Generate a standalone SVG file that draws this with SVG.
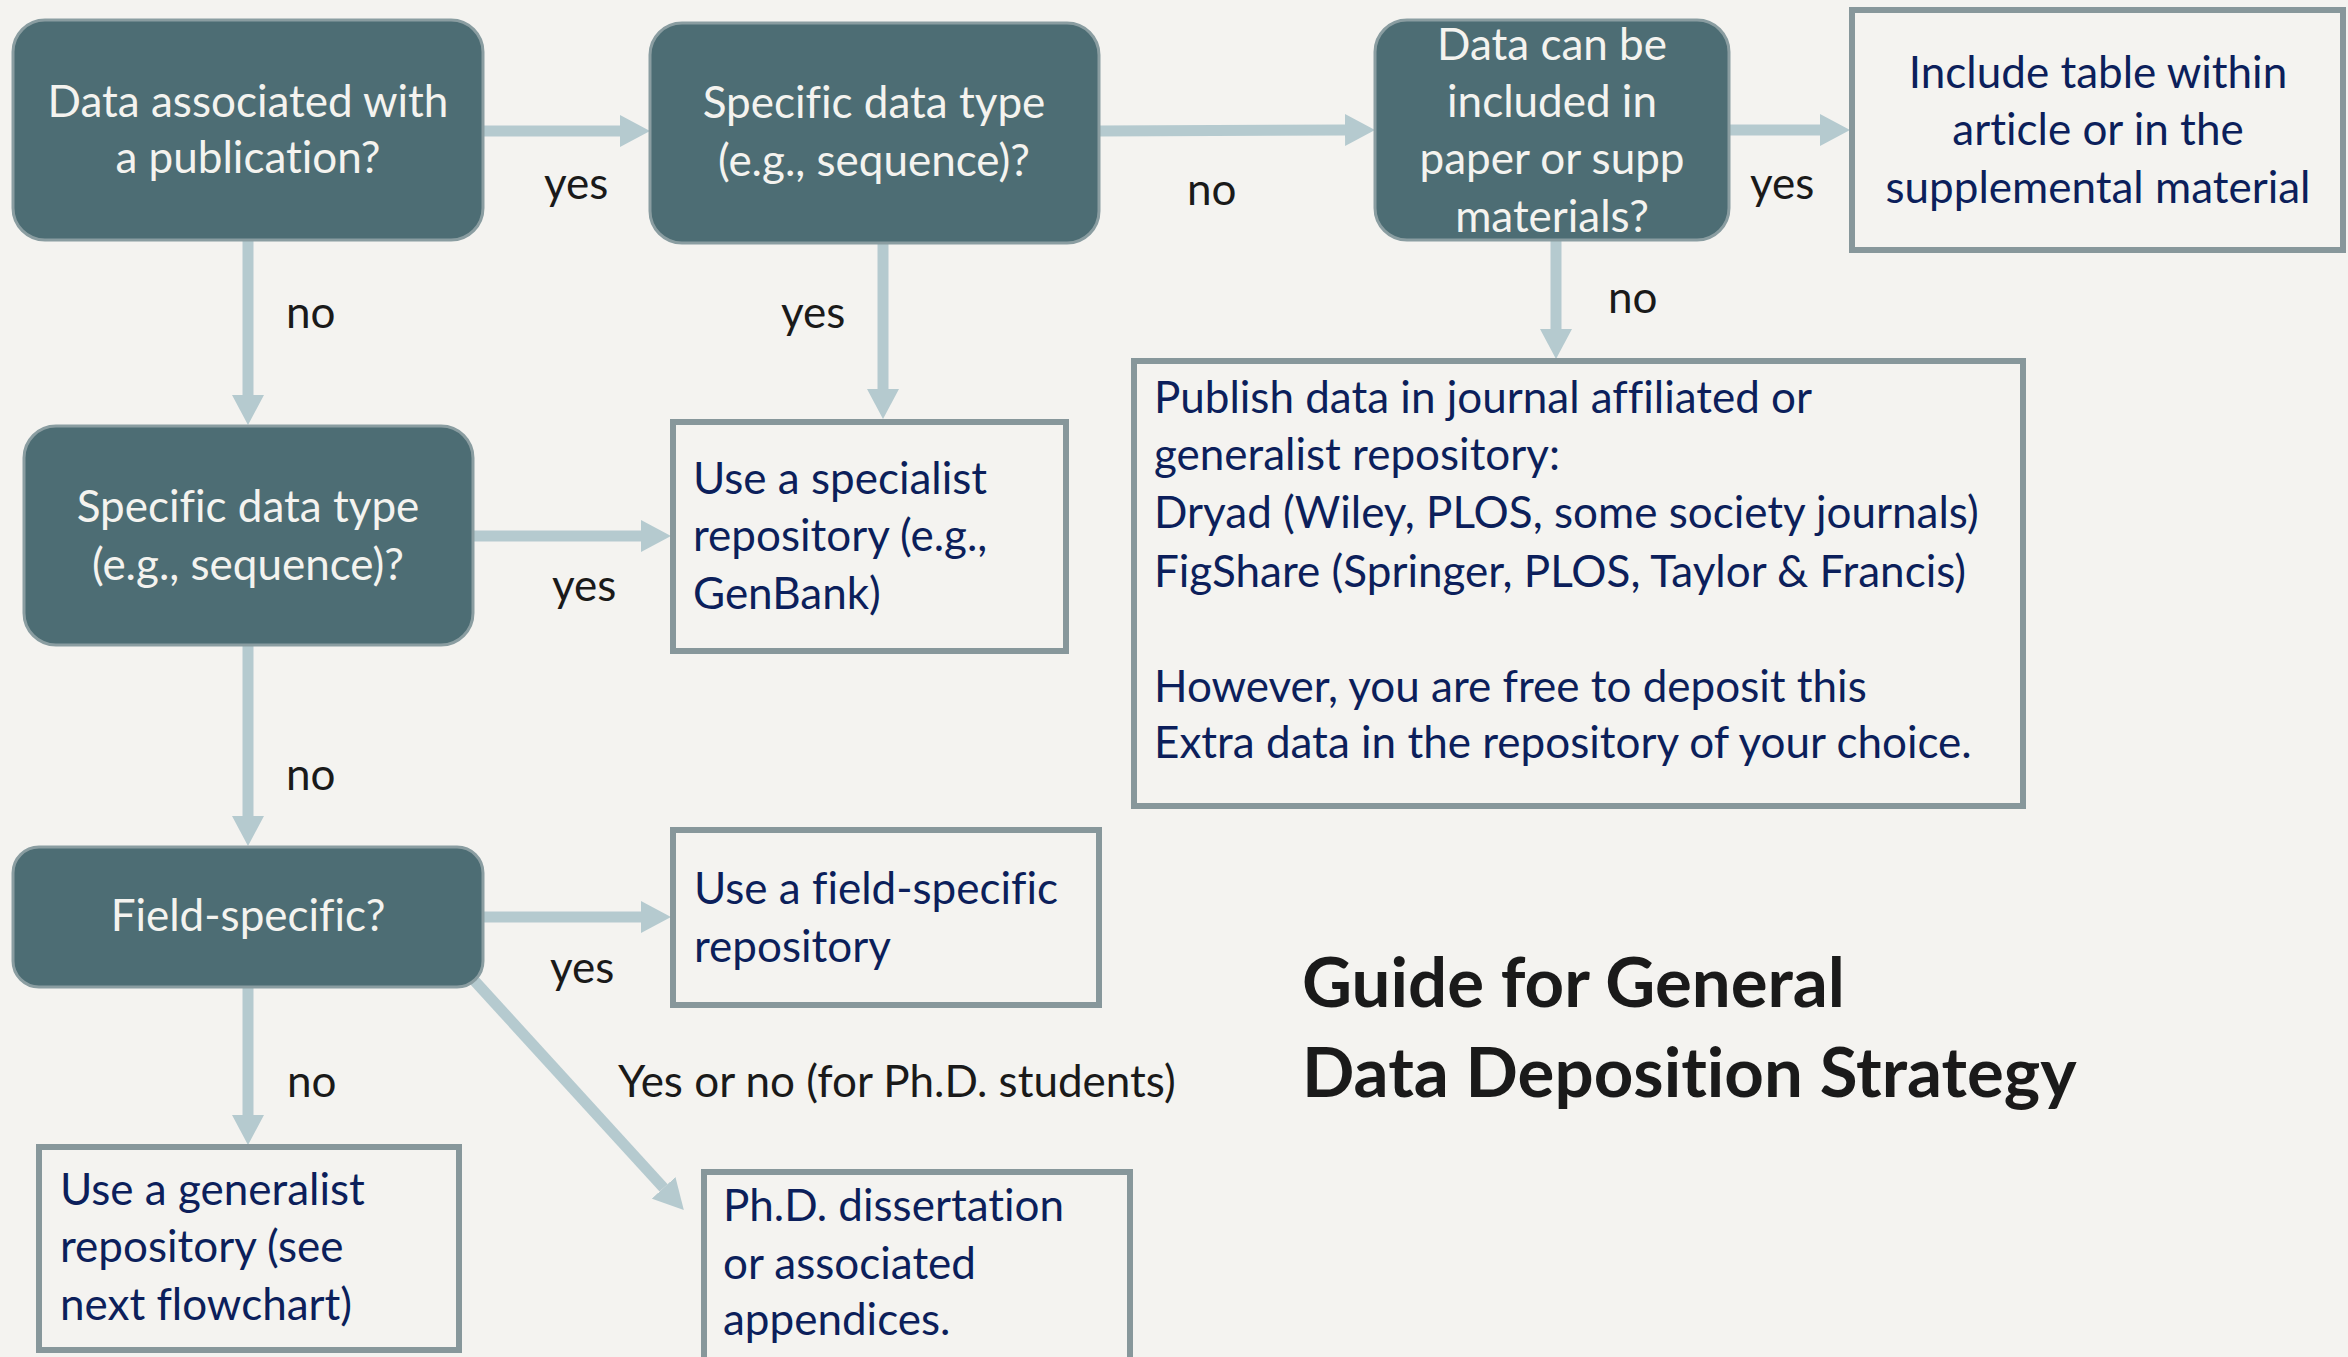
<svg xmlns="http://www.w3.org/2000/svg" width="2348" height="1357" viewBox="0 0 2348 1357">
<defs>
<style>
text{font-variant-ligatures:none}
.dec rect{fill:#4D6D74;stroke:#8A9DA1;stroke-width:3}
.dec text{fill:#F4F3EF;font-family:Lato,"Liberation Sans",sans-serif;font-size:44px;text-anchor:middle}
.box rect{fill:none;stroke:#87979B;stroke-width:6}
.box text{fill:#0C1F5B;font-family:Lato,"Liberation Sans",sans-serif;font-size:44px}
.lbl{fill:#1A1A1A;font-family:Lato,"Liberation Sans",sans-serif;font-size:44px}
.title{fill:#1A1A1A;font-family:Lato,"Liberation Sans",sans-serif;font-size:69px;font-weight:bold}
#connectors line{stroke:#B5CACF;stroke-width:11;marker-end:url(#ah)}
</style>
<marker id="ah" markerUnits="userSpaceOnUse" markerWidth="30" markerHeight="32" refX="0" refY="16" orient="auto" viewBox="0 0 30 32">
<path d="M0,0 L30,16 L0,32 z" fill="#B5CACF"/>
</marker>
</defs>
<rect x="0" y="0" width="2348" height="1357" fill="#F4F3F0"/>

<g id="connectors">
<line x1="484" y1="131" x2="620" y2="131"/>
<line x1="1099" y1="131" x2="1345" y2="130"/>
<line x1="1730" y1="130" x2="1820" y2="130"/>
<line x1="1556" y1="240" x2="1556" y2="329"/>
<line x1="883" y1="243" x2="883" y2="389"/>
<line x1="248" y1="240" x2="248" y2="395"/>
<line x1="473" y1="536" x2="641" y2="536"/>
<line x1="248" y1="645" x2="248" y2="816"/>
<line x1="483" y1="917" x2="641" y2="917"/>
<line x1="248" y1="987" x2="248" y2="1115"/>
<line x1="461" y1="966" x2="663.6" y2="1187.9"/>
</g>

<g id="labels">
<text class="lbl" x="544" y="199">yes</text>
<text class="lbl" x="1187" y="205">no</text>
<text class="lbl" x="1750" y="199">yes</text>
<text class="lbl" x="1608" y="313">no</text>
<text class="lbl" x="781" y="328">yes</text>
<text class="lbl" x="286" y="328">no</text>
<text class="lbl" x="552" y="601">yes</text>
<text class="lbl" x="286" y="790">no</text>
<text class="lbl" x="550" y="983">yes</text>
<text class="lbl" x="287" y="1097">no</text>
<text class="lbl" x="618" y="1097">Yes or no (for Ph.D. students)</text>
</g>

<g id="n1" class="dec">
<rect x="13" y="20" width="470" height="220" rx="32"/>
<text x="248" y="117">Data associated with</text>
<text x="248" y="173">a publication?</text>
</g>
<g id="n2" class="dec">
<rect x="650" y="23" width="449" height="220" rx="32"/>
<text x="874" y="118">Specific data type</text>
<text x="874" y="176">(e.g., sequence)?</text>
</g>
<g id="n3" class="dec">
<rect x="1375" y="20" width="354" height="220" rx="32"/>
<text x="1552" y="60">Data can be</text>
<text x="1552" y="117">included in</text>
<text x="1552" y="174">paper or supp</text>
<text x="1552" y="232">materials?</text>
</g>
<g id="n4" class="box">
<rect x="1852" y="10" width="491" height="240"/>
<text x="2098" y="88" text-anchor="middle">Include table within</text>
<text x="2098" y="145" text-anchor="middle">article or in the</text>
<text x="2098" y="203" text-anchor="middle">supplemental material</text>
</g>
<g id="n5" class="box">
<rect x="1134" y="361" width="889" height="445"/>
<text x="1154" y="413">Publish data in journal affiliated or</text>
<text x="1154" y="470">generalist repository:</text>
<text x="1154" y="528">Dryad (Wiley, PLOS, some society journals)</text>
<text x="1154" y="587">FigShare (Springer, PLOS, Taylor &amp; Francis)</text>
<text x="1154" y="702">However, you are free to deposit this</text>
<text x="1154" y="758">Extra data in the repository of your choice.</text>
</g>
<g id="n6" class="dec">
<rect x="24" y="426" width="449" height="219" rx="32"/>
<text x="248" y="522">Specific data type</text>
<text x="248" y="580">(e.g., sequence)?</text>
</g>
<g id="n7" class="box">
<rect x="673" y="422" width="393" height="229"/>
<text x="693" y="494">Use a specialist</text>
<text x="693" y="551">repository (e.g.,</text>
<text x="693" y="609">GenBank)</text>
</g>
<g id="n8" class="dec">
<rect x="13" y="847" width="470" height="140" rx="26"/>
<text x="248" y="931">Field-specific?</text>
</g>
<g id="n9" class="box">
<rect x="673" y="830" width="426" height="175"/>
<text x="694" y="904">Use a field-specific</text>
<text x="694" y="962">repository</text>
</g>
<g id="n10" class="box">
<rect x="39" y="1147" width="420" height="203"/>
<text x="60" y="1205">Use a generalist</text>
<text x="60" y="1262">repository (see</text>
<text x="60" y="1320">next flowchart)</text>
</g>
<g id="n11" class="box">
<rect x="704" y="1172" width="426" height="200"/>
<text x="723" y="1221">Ph.D. dissertation</text>
<text x="723" y="1279">or associated</text>
<text x="723" y="1335">appendices.</text>
</g>
<g id="title">
<text class="title" x="1302" y="1007">Guide for General</text>
<text class="title" x="1302" y="1097">Data Deposition Strategy</text>
</g>
</svg>
